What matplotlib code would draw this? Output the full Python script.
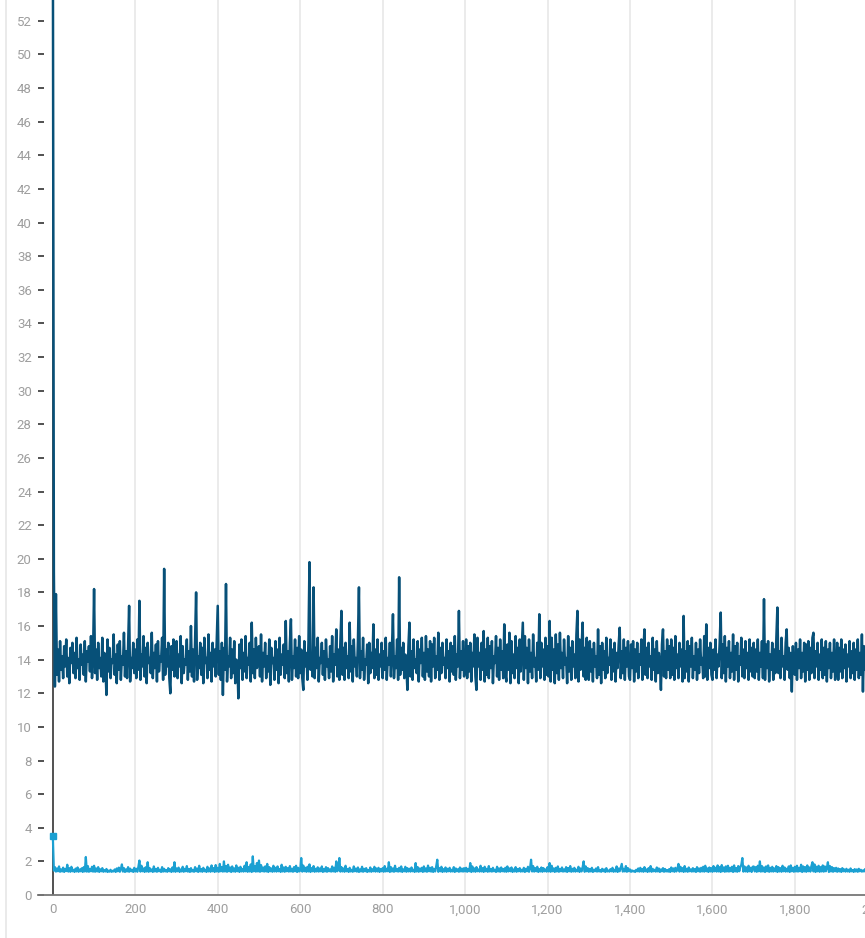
import numpy as np
import matplotlib
matplotlib.use('Agg')
import matplotlib.pyplot as plt
from matplotlib.lines import Line2D
from matplotlib.ticker import FuncFormatter, MultipleLocator

plt.rcParams['font.family'] = ['Roboto', 'DejaVu Sans']

# one value every 2.5 steps, 40 values per 100 steps
step_size = 2.5

loss_dark = [
  58.0, 19.2, 12.4, 17.9, 13.1, 14.6, 12.7, 15.1, 13.4, 14.2, 12.9, 14.8, 13.6, 15.2, 13.0, 14.1, 12.6, 14.7, 13.8, 15.0,
  13.2, 14.4, 12.9, 15.3, 13.5, 14.0, 12.8, 14.9, 13.7, 14.3, 13.1, 15.1, 12.7, 14.5, 13.9, 14.8, 13.3, 15.4, 12.9, 14.2,
  18.2, 13.2, 14.6, 12.8, 15.0, 13.5, 14.1, 13.0, 15.3, 12.7, 14.4, 13.6, 11.9, 15.2, 13.3, 14.7, 12.9, 14.0, 13.8, 15.5,
  13.1, 14.3, 12.6, 14.9, 13.4, 15.1, 12.8, 14.2, 13.7, 15.6, 13.0, 14.5, 12.9, 14.8, 17.2, 12.7, 14.1, 13.5, 15.0, 13.2,
  14.6, 12.9, 15.2, 13.4, 17.5, 12.8, 14.3, 13.6, 15.4, 13.0, 14.7, 12.6, 15.0, 13.8, 14.1, 13.2, 15.6, 12.9, 14.4, 13.5,
  14.9, 12.7, 15.1, 13.3, 14.2, 13.9, 15.3, 12.8, 19.4, 13.1, 14.6, 13.6, 15.0, 12.9, 12.0, 14.8, 13.4, 15.2, 13.0, 14.5,
  15.1, 12.9, 14.3, 13.6, 15.4, 12.6, 14.8, 13.2, 14.0, 13.7, 15.2, 12.8, 14.5, 13.3, 16.0, 13.0, 14.6, 12.7, 15.1, 18.0,
  12.8, 14.2, 13.5, 15.0, 13.1, 14.7, 12.6, 15.3, 13.8, 14.1, 12.9, 15.5, 13.4, 14.4, 12.7, 15.0, 13.6, 14.6, 13.0, 15.2,
  17.2, 13.1, 14.5, 12.8, 15.0, 11.9, 14.7, 13.4, 18.5, 12.7, 14.2, 13.6, 15.3, 12.9, 14.6, 13.2, 15.1, 12.6, 14.0, 13.8,
  11.7, 14.9, 13.5, 15.2, 12.8, 14.4, 13.3, 15.4, 12.9, 14.1, 13.7, 15.0, 12.7, 16.2, 13.2, 14.6, 12.9, 15.3, 13.5, 14.3,
  14.8, 13.0, 15.5, 12.7, 14.4, 13.6, 15.0, 12.9, 14.2, 13.3, 15.2, 12.5, 14.7, 13.8, 14.1, 12.8, 15.1, 13.4, 14.6, 12.6,
  15.3, 13.1, 14.3, 13.7, 14.9, 12.9, 16.3, 13.2, 14.5, 12.7, 15.0, 16.4, 12.8, 14.2, 13.5, 15.2, 13.0, 14.7, 12.9, 15.4,
  13.2, 14.6, 12.9, 12.2, 15.1, 13.6, 14.4, 12.8, 15.0, 19.8, 13.4, 14.2, 13.0, 18.3, 12.9, 14.7, 13.5, 15.3, 12.7, 14.1,
  13.8, 15.0, 13.1, 14.5, 12.8, 15.2, 13.6, 14.0, 12.9, 14.8, 13.3, 15.4, 12.7, 14.3, 13.7, 15.8, 13.0, 14.6, 12.8, 15.1,
  16.9, 13.1, 14.7, 12.8, 15.0, 13.5, 14.2, 12.9, 16.2, 13.3, 14.8, 12.7, 15.2, 13.6, 14.1, 13.0, 15.1, 18.3, 12.9, 14.5,
  13.4, 15.3, 12.8, 14.0, 13.7, 14.9, 12.6, 15.0, 13.2, 14.4, 13.5, 16.1, 12.9, 14.6, 13.1, 15.2, 12.8, 14.3, 13.6, 15.0,
  12.9, 14.5, 13.4, 15.3, 12.8, 14.1, 13.7, 15.0, 13.0, 14.6, 16.7, 12.9, 14.2, 13.5, 15.2, 12.8, 18.9, 13.1, 14.7, 13.4,
  15.0, 12.9, 14.3, 13.6, 12.2, 14.8, 16.2, 13.0, 14.5, 12.8, 15.2, 13.5, 14.0, 13.2, 15.1, 12.7, 14.6, 13.8, 15.3, 13.0,
  14.4, 12.8, 15.4, 13.3, 14.6, 13.0, 15.1, 12.7, 14.9, 13.6, 15.3, 12.9, 14.2, 13.4, 15.6, 12.8, 14.7, 13.2, 15.0, 13.7,
  14.1, 12.9, 15.2, 13.5, 14.5, 12.7, 15.0, 13.3, 14.8, 13.1, 15.4, 12.8, 14.3, 13.6, 16.9, 12.9, 14.5, 13.4, 15.1, 13.0,
  13.5, 15.2, 12.9, 14.8, 13.3, 15.0, 12.7, 14.4, 13.6, 15.5, 13.0, 12.2, 15.3, 13.6, 14.4, 12.8, 15.0, 13.4, 15.7, 12.7,
  14.6, 13.1, 15.3, 12.9, 14.8, 13.5, 15.1, 12.6, 14.2, 13.8, 15.4, 13.0, 14.7, 12.8, 15.2, 13.4, 14.5, 12.9, 16.1, 13.2,
  12.7, 14.9, 13.4, 15.6, 12.6, 15.1, 13.2, 14.3, 12.9, 15.4, 13.5, 14.7, 12.6, 15.2, 13.3, 14.8, 16.2, 12.8, 15.4, 13.5,
  14.7, 12.6, 15.2, 13.3, 14.4, 12.9, 15.5, 13.6, 14.1, 12.7, 15.0, 13.4, 16.7, 12.9, 15.0, 13.6, 14.6, 12.8, 15.3, 13.1,
  14.8, 13.0, 16.3, 12.7, 15.3, 13.4, 14.6, 12.6, 15.5, 13.2, 14.9, 12.8, 15.6, 13.5, 14.4, 12.9, 15.2, 13.7, 14.1, 12.6,
  15.4, 13.3, 14.7, 12.8, 15.1, 13.6, 14.3, 12.9, 15.5, 16.9, 12.7, 15.2, 13.4, 14.6, 16.2, 13.0, 14.7, 12.8, 15.3, 13.5,
  12.8, 15.1, 13.3, 14.6, 12.7, 15.0, 13.6, 14.2, 12.9, 15.8, 13.1, 14.8, 12.6, 15.0, 13.4, 14.5, 12.9, 15.3, 13.2, 14.1,
  13.7, 15.2, 12.8, 14.6, 13.3, 15.0, 12.7, 14.4, 13.5, 14.9, 15.9, 12.9, 14.5, 13.2, 15.2, 12.8, 14.7, 13.6, 15.1, 13.0,
  12.8, 14.9, 13.5, 15.1, 12.7, 14.6, 13.3, 15.0, 12.9, 14.3, 13.7, 15.2, 12.8, 14.5, 15.8, 13.1, 14.7, 12.9, 15.0, 13.6,
  14.2, 12.8, 15.3, 13.4, 14.6, 12.7, 15.1, 13.2, 14.4, 13.8, 12.2, 14.9, 15.8, 13.0, 14.5, 12.9, 15.2, 13.4, 14.8, 12.9,
  15.2, 13.1, 14.7, 12.8, 15.4, 13.5, 14.3, 12.9, 15.0, 13.6, 14.6, 12.7, 16.6, 12.9, 14.5, 13.3, 15.1, 12.7, 14.8, 13.6,
  15.3, 12.9, 14.2, 13.4, 15.0, 12.8, 14.6, 13.2, 15.2, 13.7, 14.1, 12.9, 15.4, 13.0, 16.1, 12.8, 14.7, 13.5, 15.0, 13.1,
  12.8, 14.6, 13.4, 15.2, 12.9, 14.3, 13.6, 15.0, 16.8, 12.9, 14.9, 13.2, 15.4, 12.7, 14.7, 13.6, 15.1, 12.9, 14.4, 13.3,
  15.5, 12.8, 14.8, 13.4, 15.0, 12.7, 14.2, 13.7, 15.3, 13.0, 14.6, 12.9, 15.1, 13.5, 14.4, 12.8, 15.2, 13.3, 14.7, 13.0,
  15.0, 12.9, 14.6, 13.3, 15.2, 12.8, 14.4, 13.6, 15.1, 12.9, 17.6, 12.8, 14.9, 13.5, 15.1, 12.7, 14.3, 13.4, 15.0, 12.8,
  14.6, 13.2, 15.3, 17.1, 13.2, 14.5, 12.9, 15.3, 13.6, 14.2, 12.8, 15.0, 15.8, 13.4, 14.7, 12.9, 14.4, 12.1, 14.8, 13.3,
  13.1, 15.0, 12.8, 14.6, 13.5, 15.2, 12.9, 14.4, 13.3, 15.0, 12.7, 14.9, 13.4, 15.1, 12.8, 14.7, 13.2, 15.3, 15.6, 12.9,
  14.5, 13.6, 15.0, 12.8, 14.3, 13.4, 15.2, 12.9, 14.7, 13.1, 15.1, 12.7, 14.6, 13.5, 15.0, 12.9, 14.4, 13.3, 15.2, 12.8,
  13.6, 15.0, 12.8, 14.7, 13.3, 15.2, 12.9, 14.6, 13.5, 14.9, 12.7, 14.3, 13.6, 15.1, 12.9, 14.5, 13.2, 15.0, 12.8, 14.6,
  13.4, 15.2, 12.9, 14.4, 13.1, 15.5, 12.1, 14.8, 13.4, 14.6,
]

loss_light = [
  3.50, 1.45, 1.66, 1.39, 1.58, 1.41, 1.70, 1.38, 1.52, 1.40, 1.63, 1.37, 1.55, 1.42, 1.80, 1.39, 1.60, 1.38, 1.68, 1.41,
  1.50, 1.37, 1.57, 1.40, 1.64, 1.38, 1.52, 1.41, 1.59, 1.37, 1.66, 1.40, 2.26, 1.39, 1.72, 1.38, 1.55, 1.41, 1.68, 1.39,
  1.74, 1.38, 1.58, 1.40, 1.66, 1.37, 1.53, 1.41, 1.60, 1.38, 1.48, 1.40, 1.55, 1.37, 1.45, 1.39, 1.50, 1.38, 1.44, 1.40,
  1.52, 1.37, 1.58, 1.41, 1.63, 1.38, 1.55, 1.82, 1.39, 1.60, 1.37, 1.52, 1.40, 1.66, 1.38, 1.57, 1.41, 1.50, 1.37, 1.62,
  1.40, 1.56, 1.38, 1.68, 2.05, 1.39, 1.74, 1.41, 1.58, 1.37, 1.65, 1.40, 1.95, 1.38, 1.60, 1.41, 1.52, 1.37, 1.70, 1.40,
  1.55, 1.38, 1.62, 1.41, 1.50, 1.37, 1.66, 1.39, 1.56, 1.40, 1.48, 1.38, 1.60, 1.41, 1.53, 1.37, 1.64, 1.40, 1.95, 1.38,
  1.58, 1.41, 1.63, 1.37, 1.52, 1.40, 1.68, 1.38, 1.56, 1.41, 1.72, 1.39, 1.54, 1.37, 1.60, 1.40, 1.49, 1.38, 1.66, 1.41,
  1.57, 1.37, 1.74, 1.40, 1.55, 1.38, 1.62, 1.41, 1.50, 1.37, 1.68, 1.40, 1.58, 1.38, 1.76, 1.41, 1.60, 1.37, 1.78, 1.40,
  1.62, 1.38, 1.85, 1.41, 1.66, 1.39, 2.00, 1.40, 1.72, 1.38, 1.80, 1.41, 1.64, 1.37, 1.70, 1.40, 1.58, 1.38, 1.76, 1.41,
  1.62, 1.37, 1.68, 1.40, 1.55, 1.39, 1.74, 1.41, 1.95, 1.38, 1.66, 1.40, 1.82, 1.37, 2.30, 1.41, 1.72, 1.39, 1.90, 1.40,
  2.05, 1.38, 1.78, 1.41, 1.64, 1.39, 1.70, 1.40, 1.85, 1.37, 1.66, 1.41, 1.58, 1.38, 1.74, 1.40, 1.62, 1.39, 1.70, 1.41,
  1.55, 1.37, 1.80, 1.40, 1.64, 1.38, 1.68, 1.41, 1.60, 1.39, 1.72, 1.40, 1.56, 1.38, 1.66, 1.41, 1.74, 1.37, 1.62, 1.40,
  1.45, 2.20, 1.39, 1.75, 1.41, 1.62, 1.38, 1.68, 1.40, 1.82, 1.37, 1.60, 1.41, 1.72, 1.38, 1.56, 1.40, 1.65, 1.39, 1.58,
  1.41, 1.70, 1.37, 1.54, 1.40, 1.66, 1.38, 1.60, 1.41, 1.52, 1.39, 1.70, 1.40, 1.62, 1.38, 2.00, 1.41, 1.55, 2.20, 1.39,
  1.66, 1.40, 1.58, 1.38, 1.74, 1.41, 1.55, 1.37, 1.62, 1.40, 1.50, 1.38, 1.70, 1.41, 1.57, 1.39, 1.64, 1.37, 1.52, 1.40,
  1.68, 1.38, 1.56, 1.41, 1.60, 1.37, 1.48, 1.40, 1.64, 1.38, 1.53, 1.41, 1.68, 1.39, 1.58, 1.40, 1.62, 1.37, 1.55, 1.41,
  1.60, 1.38, 1.72, 1.40, 1.56, 1.41, 1.95, 1.37, 1.66, 1.40, 1.58, 1.38, 1.74, 1.41, 1.55, 1.39, 1.62, 1.40, 1.70, 1.37,
  1.52, 1.41, 1.68, 1.38, 1.60, 1.40, 1.56, 1.39, 1.64, 1.41, 1.50, 1.37, 1.90, 1.40, 1.66, 1.38, 1.58, 1.41, 1.62, 1.37,
  1.70, 1.40, 1.58, 1.38, 1.75, 1.41, 1.62, 1.39, 1.66, 1.37, 1.55, 1.40, 1.72, 2.10, 1.38, 1.60, 1.41, 1.68, 1.37, 1.54,
  1.40, 1.64, 1.38, 1.56, 1.41, 1.62, 1.39, 1.50, 1.40, 1.66, 1.37, 1.58, 1.41, 1.53, 1.38, 1.64, 1.40, 1.57, 1.39, 1.60,
  1.40, 1.62, 1.38, 1.55, 1.41, 1.90, 1.37, 1.70, 1.40, 1.58, 1.38, 1.66, 1.41, 1.52, 1.39, 1.74, 1.40, 1.60, 1.37, 1.68,
  1.41, 1.56, 1.38, 1.72, 1.40, 1.54, 1.39, 1.62, 1.41, 1.50, 1.37, 1.68, 1.40, 1.58, 1.38, 1.64, 1.41, 1.55, 1.39, 1.62,
  1.38, 1.70, 1.40, 1.58, 1.41, 1.64, 1.37, 1.52, 1.40, 1.66, 1.38, 1.55, 1.41, 1.60, 1.39, 1.50, 1.40, 1.62, 1.37, 1.56,
  1.41, 1.68, 1.38, 1.58, 2.10, 1.40, 1.72, 1.39, 1.60, 1.41, 1.68, 1.37, 1.54, 1.40, 1.64, 1.38, 1.60, 1.41, 1.52, 1.39,
  1.66, 1.40, 1.90, 1.38, 1.74, 1.41, 1.58, 1.37, 1.62, 1.40, 1.70, 1.38, 1.55, 1.41, 1.64, 1.39, 1.52, 1.40, 1.66, 1.37,
  1.60, 1.41, 1.72, 1.38, 1.56, 1.40, 1.62, 1.39, 1.50, 1.41, 1.68, 1.37, 1.58, 1.40, 1.64, 2.00, 1.38, 1.70, 1.41, 1.60,
  1.38, 1.55, 1.40, 1.62, 1.37, 1.50, 1.41, 1.58, 1.39, 1.66, 1.40, 1.48, 1.38, 1.56, 1.41, 1.52, 1.37, 1.60, 1.40, 1.46,
  1.39, 1.54, 1.41, 1.62, 1.38, 1.50, 1.40, 1.70, 1.37, 1.58, 1.41, 1.64, 1.85, 1.39, 1.56, 1.40, 1.72, 1.38, 1.60, 1.41,
  1.52, 1.38, 1.46, 1.40, 1.44, 1.37, 1.50, 1.41, 1.58, 1.39, 1.62, 1.40, 1.55, 1.38, 1.66, 1.41, 1.52, 1.37, 1.60, 1.40,
  1.72, 1.38, 1.56, 1.41, 1.50, 1.39, 1.64, 1.40, 1.58, 1.37, 1.52, 1.41, 1.60, 1.38, 1.55, 1.40, 1.48, 1.39, 1.54, 1.37,
  1.64, 1.41, 1.58, 1.38, 1.62, 1.40, 1.55, 1.85, 1.39, 1.68, 1.41, 1.60, 1.37, 1.72, 1.40, 1.56, 1.38, 1.64, 1.41, 1.52,
  1.39, 1.60, 1.40, 1.54, 1.37, 1.66, 1.41, 1.58, 1.38, 1.62, 1.40, 1.68, 1.39, 1.74, 1.41, 1.58, 1.37, 1.64, 1.40, 1.60,
  1.38, 1.72, 1.41, 1.62, 1.39, 1.76, 1.40, 1.66, 1.37, 1.78, 1.41, 1.64, 1.38, 1.70, 1.40, 1.74, 1.39, 1.62, 1.41, 1.68,
  1.37, 1.76, 1.40, 1.60, 1.38, 1.72, 1.41, 1.66, 1.80, 2.20, 1.39, 1.70, 1.40, 1.64, 1.38, 1.74, 1.41, 1.62, 1.37, 1.68,
  1.70, 1.40, 1.66, 1.38, 1.74, 1.41, 2.00, 1.39, 1.72, 1.40, 1.64, 1.37, 1.70, 1.41, 1.76, 1.38, 1.62, 1.40, 1.68, 1.39,
  1.58, 1.41, 1.72, 1.37, 1.66, 1.40, 1.60, 1.38, 1.74, 1.41, 1.64, 1.39, 1.56, 1.40, 1.70, 1.37, 1.76, 1.41, 1.62, 1.38,
  1.68, 1.40, 1.74, 1.39, 1.62, 1.41, 1.80, 1.37, 1.70, 1.40, 1.66, 1.38, 1.76, 1.41, 1.64, 1.39, 1.72, 1.95, 1.40, 1.82,
  1.37, 1.68, 1.41, 1.74, 1.38, 1.66, 1.40, 1.76, 1.39, 1.70, 1.41, 1.62, 1.95, 1.37, 1.72, 1.40, 1.66, 1.38, 1.60, 1.41,
  1.62, 1.38, 1.58, 1.40, 1.54, 1.37, 1.60, 1.41, 1.52, 1.39, 1.56, 1.40, 1.50, 1.38, 1.58, 1.41, 1.48, 1.37, 1.54, 1.40,
  1.52, 1.38, 1.56, 1.41, 1.50, 1.39, 1.46, 1.40, 1.54, 1.38,
]

steps_dark = np.arange(len(loss_dark)) * step_size
steps_light = np.arange(len(loss_light)) * step_size

dark_col = '#075078'
light_col = '#1ba0d2'
label_col = '#9e9e9e'

W, H = 865, 938
fig = plt.figure(figsize=(W / 100, H / 100), dpi=100)
ax = fig.add_axes([38 / W, 43 / H, 1 - 38 / W, 895 / H])

# light grey panel border on the far left
fig.add_artist(Line2D([6 / W, 6 / W], [0, 1], transform=fig.transFigure,
                      color='#e6e6e6', linewidth=1.2))

ax.set_xlim(-36, 1970)
ax.set_ylim(0, 53.24)

for x in range(200, 2001, 200):
  ax.axvline(x, color='#e6e6e6', linewidth=1.1, zorder=0)
ax.axvline(0, color='#222222', linewidth=1.1, zorder=1)

ax.plot(steps_light, loss_light, color=light_col, linewidth=1.6, zorder=3)
ax.plot(steps_light[:1], loss_light[:1], 's', color=light_col, markersize=4, zorder=4)
ax.plot(steps_dark, loss_dark, color=dark_col, linewidth=1.8, zorder=3)

for s in ['top', 'right', 'left']:
  ax.spines[s].set_visible(False)
ax.spines['bottom'].set_color('#777777')
ax.spines['bottom'].set_linewidth(1.3)

ax.yaxis.set_major_locator(MultipleLocator(2))
ax.xaxis.set_major_locator(MultipleLocator(200))
ax.xaxis.set_major_formatter(FuncFormatter(lambda v, p: f'{int(v):,}'))

ax.tick_params(axis='y', direction='in', length=4, width=1.1, color='#222222',
               pad=4.5, labelsize=9.5, labelcolor=label_col)
ax.tick_params(axis='x', length=0, pad=6, labelsize=9.5, labelcolor=label_col)

# the 2,000 label sits past the right edge and is cut by it
ax.annotate('2,000', xy=(2000, 0), xycoords=ax.get_xaxis_transform(),
            xytext=(0, -6), textcoords='offset points', ha='center', va='top',
            fontsize=9.5, color=label_col, annotation_clip=False)

fig.savefig('out.png', dpi=100)
